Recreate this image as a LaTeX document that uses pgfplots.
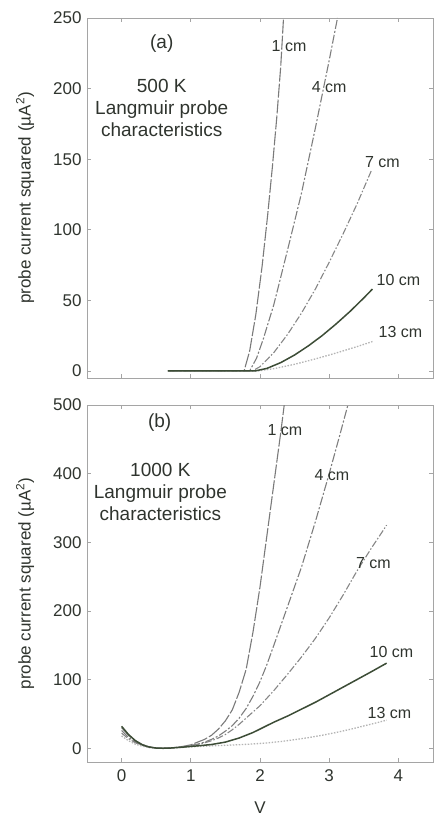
\documentclass[border=0pt]{standalone}
\usepackage{fontspec}
\setmainfont{Liberation Sans}
\usepackage{pgfplots}
\pgfplotsset{compat=1.18}

\definecolor{txt}{HTML}{2F342E}
\definecolor{axcol}{HTML}{A5A5A5}
\definecolor{cA}{HTML}{7A7A7A}
\definecolor{cB}{HTML}{7E7E7E}
\definecolor{cC}{HTML}{868686}
\definecolor{cD}{HTML}{3C4C36}
\definecolor{cE}{HTML}{B4B4B4}

\tikzset{
  cmlab/.style={font=\fontsize{16}{19}\selectfont, text=txt, inner sep=0pt},
  anno/.style={font=\fontsize{19}{22}\selectfont, text=txt, align=center, inner sep=0pt},
}
\pgfplotsset{
  myaxis/.style={
    scale only axis, width=346pt,
    xmin=-0.5, xmax=4.5,
    xtick={0,1,2,3,4},
    tick align=inside,
    major tick length=4pt,
    axis line style={axcol, line width=0.8pt},
    every tick/.style={axcol, line width=0.8pt},
    tick label style={font=\fontsize{17}{20}\selectfont, text=txt},
    /pgf/number format/assume math mode=true,
    ylabel={probe current squared (µA\textsuperscript{2})},
    ylabel style={at={(axis description cs:-0.179,0.5)}, anchor=center,
      font=\fontsize{17}{20}\selectfont, text=txt},
    yticklabel style={xshift=-2pt},
    xticklabel style={yshift=-4pt},
  },
  s1/.style={cA, line width=1.1pt, dash pattern=on 14pt off 2pt},
  s4/.style={cB, line width=1.1pt, dash pattern=on 9pt off 2pt on 2pt off 2pt},
  s7/.style={cC, line width=1.1pt, dash pattern=on 7pt off 2pt on 1.5pt off 2pt},
  s10/.style={cD, line width=1.5pt},
  s13/.style={cE, line width=1.3pt, dash pattern=on 1.5pt off 1.5pt},
}

\begin{document}
\begin{tikzpicture}
% ---------------- (a) 500 K ----------------
\begin{axis}[myaxis, height=360pt, at={(0,0)}, anchor=south west,
  ymin=-5, ymax=250, ytick={0,50,100,150,200,250},
  xticklabels={}]
\addplot[s1] coordinates {(0.67,0)(1.77,0)(1.85,14)(1.94,40)(2.03,74)(2.11,110)(2.18,145)(2.245,181)(2.30,216)(2.34,250)};
\addplot[s4] coordinates {(0.67,0)(1.85,0)(1.95,9)(2.05,23)(2.2,47)(2.4,86)(2.6,126)(2.8,172)(3.0,220)(3.12,250)};
\addplot[s7] coordinates {(0.67,0)(1.89,0)(2.0,3)(2.2,13)(2.4,26)(2.6,41)(2.8,58)(3.0,77)(3.2,97)(3.4,118)(3.61,142)};
\addplot[s13] coordinates {(0.67,0)(1.97,0)(2.2,1.6)(2.5,4.7)(2.8,8.5)(3.1,12.7)(3.4,17.2)(3.625,20.8)};
\addplot[s10] coordinates {(0.67,0)(1.93,0)(2.1,1.8)(2.3,5.9)(2.5,11.3)(2.7,17.8)(2.9,25.1)(3.1,33.3)(3.3,42.1)(3.5,51.7)(3.625,58)};
\node[anno] at (axis cs:0.58,232) {(a)};
\node[anno] at (axis cs:0.58,186) {500 K\\Langmuir probe\\characteristics};
\node[cmlab] at (axis cs:2.42,230) {1 cm};
\node[cmlab] at (axis cs:3.00,201) {4 cm};
\node[cmlab] at (axis cs:3.77,148) {7 cm};
\node[cmlab] at (axis cs:4.00,64.5) {10 cm};
\node[cmlab] at (axis cs:4.03,27.6) {13 cm};
\end{axis}
% ---------------- (b) 1000 K ----------------
\begin{axis}[myaxis, height=357pt, at={(0,-384pt)}, anchor=south west,
  ymin=-20, ymax=500, ytick={0,100,200,300,400,500},
  xlabel={V},
  xlabel style={at={(axis description cs:0.5,0)}, yshift=-46pt, anchor=center,
    inner sep=0pt, font=\fontsize{17}{20}\selectfont, text=txt}]
\addplot[s1] coordinates {(0,30)(0.1,19)(0.2,11)(0.3,5.5)(0.4,2)(0.5,0.4)(0.6,0)(0.7,0.5)(0.8,1.5)(0.9,3)(1.0,5)(1.1,9)(1.2,13)(1.3,19)(1.4,28)(1.5,40)(1.6,56)(1.7,82)(1.8,115)(1.9,170)(2.0,235)(2.1,310)(2.2,385)(2.3,460)(2.35,500)};
\addplot[s4] coordinates {(0,26)(0.1,16)(0.2,9)(0.3,4.5)(0.4,1.8)(0.5,0.3)(0.6,0)(0.7,0.5)(0.8,1.3)(0.9,2.5)(1.0,4)(1.1,6)(1.2,9)(1.3,13)(1.4,18)(1.5,25)(1.6,33)(1.7,44)(1.8,58)(1.9,76)(2.0,97)(2.1,122)(2.2,150)(2.4,207)(2.6,264)(2.8,330)(3.0,400)(3.15,455)(3.27,500)};
\addplot[s7] coordinates {(0,22)(0.1,14)(0.2,8)(0.3,4)(0.4,1.5)(0.5,0.3)(0.6,0)(0.7,0.4)(0.8,1.2)(0.9,2.2)(1.0,3.5)(1.1,5.5)(1.2,8)(1.3,11)(1.4,15)(1.5,20)(1.6,27)(1.7,35)(1.8,44)(1.9,53)(2.0,62)(2.2,84)(2.4,108)(2.6,133)(2.8,160)(3.0,190)(3.2,223)(3.4,258)(3.6,290)(3.83,325)};
\addplot[s13] coordinates {(0,18)(0.1,11)(0.2,6)(0.3,3)(0.4,1)(0.5,0.2)(0.6,0)(0.7,0.3)(0.8,0.8)(0.9,1.4)(1.0,2)(1.1,2.6)(1.3,3.5)(1.5,4.3)(1.7,5.2)(1.9,6.3)(2.1,7.8)(2.3,9.8)(2.5,12.5)(2.7,15.5)(2.9,19)(3.1,23)(3.3,27.5)(3.5,32.5)(3.7,37.5)(3.83,41)};
\addplot[s10] coordinates {(0,32)(0.1,20)(0.2,11)(0.3,5)(0.4,1.8)(0.5,0.3)(0.6,0)(0.7,0.3)(0.8,1)(0.9,1.8)(1.0,2.7)(1.1,3.5)(1.3,5.5)(1.5,9)(1.7,15)(1.9,23)(2.0,28)(2.2,38)(2.4,47)(2.6,57)(2.8,67)(3.0,78)(3.2,89)(3.4,100)(3.6,111)(3.83,124)};
\node[anno] at (axis cs:0.55,474) {(b)};
\node[anno] at (axis cs:0.56,373) {1000 K\\Langmuir probe\\characteristics};
\node[cmlab] at (axis cs:2.36,463) {1 cm};
\node[cmlab] at (axis cs:3.04,398) {4 cm};
\node[cmlab] at (axis cs:3.64,270) {7 cm};
\node[cmlab] at (axis cs:3.90,140) {10 cm};
\node[cmlab] at (axis cs:3.87,52) {13 cm};
\end{axis}
\pgfresetboundingbox
\path[use as bounding box] (-87pt,-440pt) rectangle (347pt,378pt);
\end{tikzpicture}
\end{document}
